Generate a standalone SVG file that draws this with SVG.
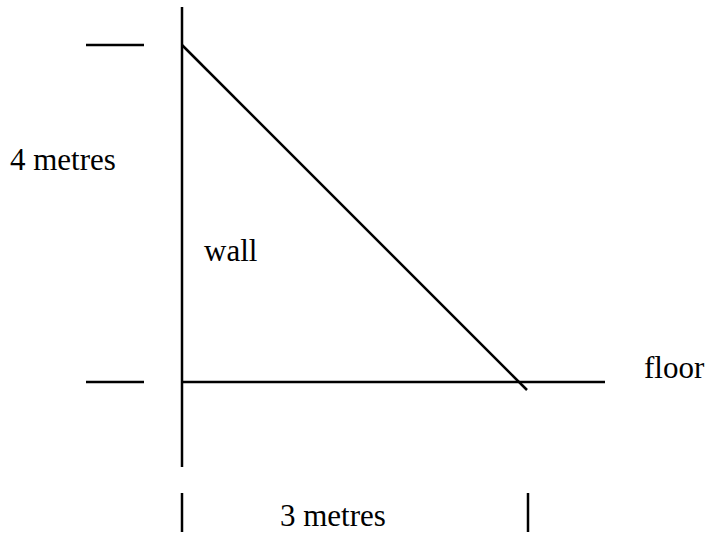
<svg xmlns="http://www.w3.org/2000/svg" width="710" height="533" viewBox="0 0 710 533">
<style>
.ln{stroke:#000;stroke-width:2.5;fill:none}
.t{font-family:'Liberation Serif','Times New Roman',Times,serif;font-size:31px;fill:#000}
</style>
<rect width="710" height="533" fill="#fff"/>
<g id="connectors">
<line class="ln" x1="182" y1="7" x2="182" y2="467"/>
<line class="ln" x1="86" y1="45" x2="144" y2="45"/>
<line class="ln" x1="86" y1="382" x2="144" y2="382"/>
<line class="ln" x1="182" y1="382" x2="605" y2="382"/>
<line class="ln" x1="182" y1="45" x2="527" y2="390"/>
<line class="ln" x1="182" y1="493" x2="182" y2="532"/>
<line class="ln" x1="528" y1="493" x2="528" y2="532"/>
</g>
<g id="label-4m"><text class="t" x="10" y="170">4 metres</text></g>
<g id="label-wall"><text class="t" x="204" y="261">wall</text></g>
<g id="label-floor"><text class="t" x="644" y="378">floor</text></g>
<g id="label-3m"><text class="t" x="280" y="526">3 metres</text></g>
</svg>
